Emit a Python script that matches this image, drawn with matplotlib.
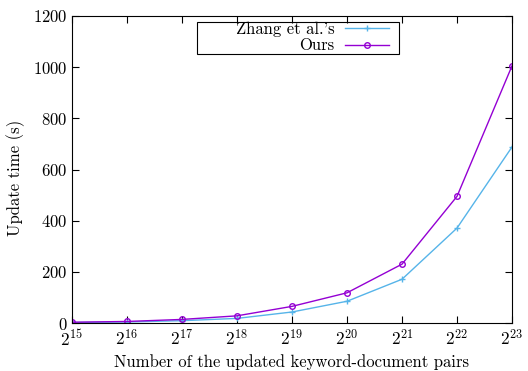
import numpy as np
import matplotlib
matplotlib.use('Agg')
import matplotlib.pyplot as plt
from matplotlib.patches import Rectangle

plt.rcParams['font.family'] = 'serif'
plt.rcParams['font.serif'] = ['cmr10']
plt.rcParams['mathtext.fontset'] = 'cm'
plt.rcParams['axes.formatter.use_mathtext'] = True

exponents = [15, 16, 17, 18, 19, 20, 21, 22, 23]
zhang_times = [2, 4, 9, 18, 43, 85, 171, 371, 688]
ours_times = [3, 6, 14, 28, 65, 118, 230, 495, 1005]

W, H = 528, 371
fig = plt.figure(figsize=(W / 100, H / 100), dpi=100)
L, R, T, B = 72, 512, 16, 323
ax = fig.add_axes([L / W, (H - B) / H, (R - L) / W, (B - T) / H])

def ax_xy(px, py):
    # pixel position -> axes fraction
    return (px - L) / (R - L), (B - py) / (B - T)

x = np.arange(len(exponents))
ax.plot(x, zhang_times, color='#56b4e9', lw=1, marker='+', ms=5, mew=1,
        label="Zhang et al.'s")
ax.plot(x, ours_times, color='#9400d3', lw=1, marker='o', ms=4, mew=1,
        mfc='none', label='Ours')

ax.set_xlim(0, len(exponents) - 1)
ax.set_ylim(0, 1200)
ax.set_xticks(x)
ax.set_xticklabels(['$2^{%d}$' % e for e in exponents], fontsize=12.5)
ax.set_yticks(range(0, 1201, 200))
ax.tick_params(axis='y', labelsize=12)
ax.tick_params(direction='in', top=True, right=True, length=5, width=0.8)
ax.tick_params(axis='x', pad=4)

ax.set_xlabel('Number of the updated keyword-document pairs', fontsize=12)
ax.set_ylabel('Update time (s)', fontsize=12)
ax.yaxis.set_label_coords(ax_xy(25, 0)[0], ax_xy(0, 178)[1])

# gnuplot style key: right-aligned labels, samples on the right, wide box
leg = ax.legend(loc='upper right', bbox_to_anchor=ax_xy(389, 22), markerfirst=False,
                fontsize=12, frameon=False, handlelength=2.65, borderpad=0.0,
                labelspacing=0.05, borderaxespad=0.0, handletextpad=0.6)
x0, y1 = ax_xy(197, 22)
x1, y0 = ax_xy(399, 54)
ax.add_patch(Rectangle((x0, y0), x1 - x0, y1 - y0, transform=ax.transAxes,
                       fill=False, ec='black', lw=0.8, zorder=5))

fig.savefig('out.png', dpi=100)
